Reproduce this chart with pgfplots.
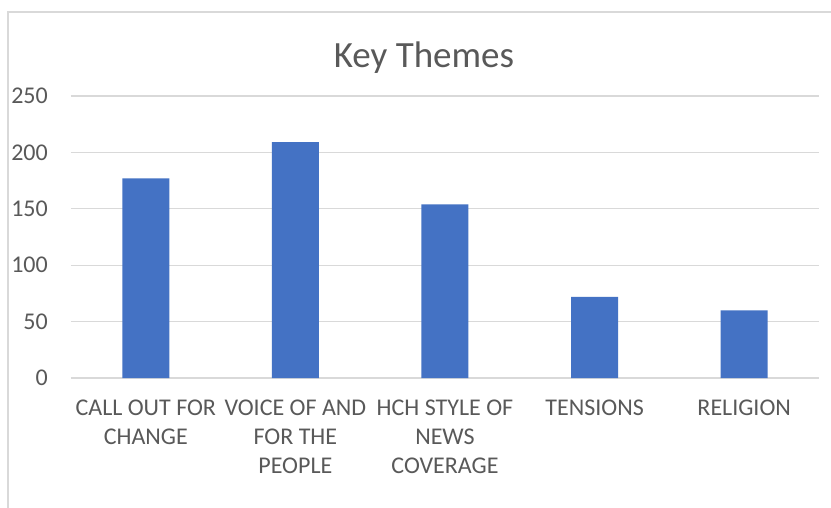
\documentclass[border=0pt]{standalone}
\usepackage{pgfplots}
\pgfplotsset{compat=1.18}
\usepackage{fontspec}
\setmainfont{Carlito}
\definecolor{barblue}{HTML}{4472C4}
\definecolor{gridgray}{HTML}{D9D9D9}
\definecolor{txtgray}{HTML}{595959}
\begin{document}
\begin{tikzpicture}
\useasboundingbox (0,0) rectangle (831pt,507pt);
\fill[white] (0,0) rectangle (831pt,507pt);
\draw[gridgray, line width=1.3pt] (8pt,-5pt) -- (8pt,495pt) -- (840pt,495pt);
\node[txtgray, font=\fontsize{37}{44}\selectfont, anchor=base, inner sep=0pt] at (424pt,439pt) {Key Themes};
\begin{axis}[
  at={(71pt,129pt)}, anchor=south west,
  scale only axis, width=748pt, height=282pt,
  xmin=-0.5, xmax=4.5, ymin=0, ymax=250,
  axis lines*=left,
  axis line style={draw=none},
  ymajorgrids, grid style={gridgray, line width=1.3pt},
  ytick={0,50,100,150,200,250},
  xtick={0,1,2,3,4},
  xticklabels={{CALL OUT FOR\\CHANGE},{VOICE OF AND\\FOR THE\\PEOPLE},{HCH STYLE OF\\NEWS\\COVERAGE},{TENSIONS},{RELIGION}},
  major tick length=0pt,
  tick label style={txtgray, font=\fontsize{24}{29}\selectfont, inner sep=0pt},
  xticklabel style={align=center, anchor=north, yshift=-22pt},
  yticklabel style={anchor=east, xshift=-23pt},
  /pgf/number format/assume math mode=true,
  ybar, bar width=47pt,
]
\addplot[fill=barblue, draw=none] coordinates {(0,177) (1,209) (2,154) (3,72) (4,60)};
\end{axis}
\end{tikzpicture}
\end{document}
